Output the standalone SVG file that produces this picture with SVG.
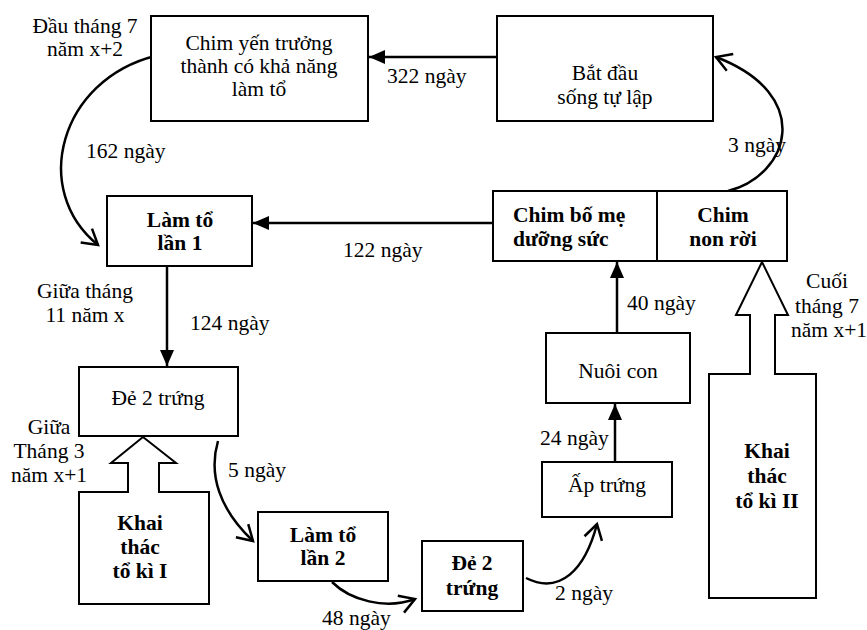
<svg xmlns="http://www.w3.org/2000/svg" width="867" height="630" viewBox="0 0 867 630">
<style>
text{font-family:'Liberation Serif','Times New Roman',serif;font-size:21.5px;fill:#000}
.c{text-anchor:middle}
.b{font-weight:bold}
.box{fill:#fff;stroke:#000;stroke-width:2}
.ln{fill:none;stroke:#000;stroke-width:2.5}
</style>
<defs>
<marker id="fa" markerUnits="userSpaceOnUse" markerWidth="16" markerHeight="16" viewBox="0 0 16 16" refX="16" refY="8" orient="auto">
<path d="M0,1 L16,8 L0,15 Z" fill="#000"/>
</marker>
<marker id="oa" markerUnits="userSpaceOnUse" markerWidth="22" markerHeight="22" viewBox="0 0 22 22" refX="19" refY="11" orient="auto">
<path d="M4,2 L19,11 L4,20" fill="none" stroke="#000" stroke-width="2.5"/>
</marker>
</defs>
<rect width="867" height="630" fill="#fff"/>
<g id="connectors">
<line class="ln" x1="497" y1="57" x2="369" y2="57" marker-end="url(#fa)"/>
<line class="ln" x1="493" y1="223" x2="253" y2="223" marker-end="url(#fa)"/>
<line class="ln" x1="167" y1="266" x2="167" y2="366" marker-end="url(#fa)"/>
<line class="ln" x1="617" y1="333" x2="617" y2="262" marker-end="url(#fa)"/>
<line class="ln" x1="615" y1="462" x2="615" y2="404" marker-end="url(#fa)"/>
<path class="ln" d="M155,56 C60,80 30,190 98,245" marker-end="url(#oa)"/>
<path class="ln" d="M728,191 C790,175 815,95 716,57" marker-end="url(#oa)"/>
<path class="ln" d="M218,441 C208,475 220,510 253,541" marker-end="url(#oa)"/>
<path class="ln" d="M332,582 C350,600 385,610 415,599" marker-end="url(#oa)"/>
<path class="ln" d="M526,578 C560,595 585,570 597,524" marker-end="url(#oa)"/>
</g>
<g id="n-adult">
<rect class="box" x="151" y="16" width="217" height="105"/>
<text class="c" x="259" y="50">Chim yến trưởng</text>
<text class="c" x="259" y="73">thành có khả năng</text>
<text class="c" x="259" y="96">làm tổ</text>
</g>
<g id="n-independent">
<rect class="box" x="497" y="16" width="216" height="105"/>
<text class="c" x="605" y="80">Bắt đầu</text>
<text class="c" x="605" y="104">sống tự lập</text>
</g>
<g id="n-nest1">
<rect class="box" x="107" y="196" width="145" height="70"/>
<text class="c b" x="180" y="227">Làm tổ</text>
<text class="c b" x="180" y="250">lần 1</text>
</g>
<g id="n-parents">
<rect class="box" x="493" y="191" width="294" height="70"/>
<line x1="657" y1="191" x2="657" y2="261" stroke="#000" stroke-width="2"/>
<text class="b" x="513" y="222">Chim bố mẹ</text>
<text class="b" x="513" y="246">dưỡng sức</text>
<text class="c b" x="723" y="222">Chim</text>
<text class="c b" x="723" y="246">non rời</text>
</g>
<g id="n-feed">
<rect class="box" x="546" y="333" width="144" height="70"/>
<text class="c" x="618" y="378">Nuôi con</text>
</g>
<g id="n-lay1">
<rect class="box" x="79" y="367" width="159" height="69"/>
<text class="c" x="158" y="405">Đẻ 2 trứng</text>
</g>
<g id="n-incubate">
<rect class="box" x="542" y="462" width="130" height="55"/>
<text class="c" x="607" y="492">Ấp trứng</text>
</g>
<g id="n-nest2">
<rect class="box" x="258" y="512" width="130" height="69"/>
<text class="c b" x="323" y="542">Làm tổ</text>
<text class="c b" x="323" y="565">lần 2</text>
</g>
<g id="n-lay2">
<rect class="box" x="422" y="541" width="101" height="70"/>
<text class="c b" x="472" y="570">Đẻ 2</text>
<text class="c b" x="472" y="595">trứng</text>
</g>
<g id="n-harvest1">
<path class="box" d="M79,492 L128,492 L128,463 L111,463 L143,437 L176,463 L159,463 L159,492 L209,492 L209,604 L79,604 Z"/>
<text class="c b" x="140" y="530">Khai</text>
<text class="c b" x="140" y="554">thác</text>
<text class="c b" x="140" y="578">tổ kì I</text>
</g>
<g id="n-harvest2">
<path class="box" d="M709,374 L750,374 L750,315 L736,315 L762,262 L788,315 L775,315 L775,374 L816,374 L816,598 L709,598 Z"/>
<text class="c b" x="767" y="458">Khai</text>
<text class="c b" x="767" y="483">thác</text>
<text class="c b" x="767" y="508">tổ kì II</text>
</g>
<g id="labels">
<text class="c" x="85" y="33">Đầu tháng 7</text>
<text class="c" x="85" y="56">năm x+2</text>
<text x="387" y="83">322 ngày</text>
<text x="86" y="158">162 ngày</text>
<text x="728" y="152">3 ngày</text>
<text x="343" y="257">122 ngày</text>
<text class="c" x="85" y="298">Giữa tháng</text>
<text class="c" x="85" y="322">11 năm x</text>
<text x="190" y="330">124 ngày</text>
<text x="627" y="310">40 ngày</text>
<text class="c" x="827" y="288">Cuối</text>
<text class="c" x="827" y="313">tháng 7</text>
<text class="c" x="829" y="337">năm x+1</text>
<text x="540" y="445">24 ngày</text>
<text class="c" x="49" y="434">Giữa</text>
<text class="c" x="49" y="458">Tháng 3</text>
<text class="c" x="49" y="482">năm x+1</text>
<text x="228" y="477">5 ngày</text>
<text x="555" y="600">2 ngày</text>
<text x="322" y="625">48 ngày</text>
</g>
</svg>
